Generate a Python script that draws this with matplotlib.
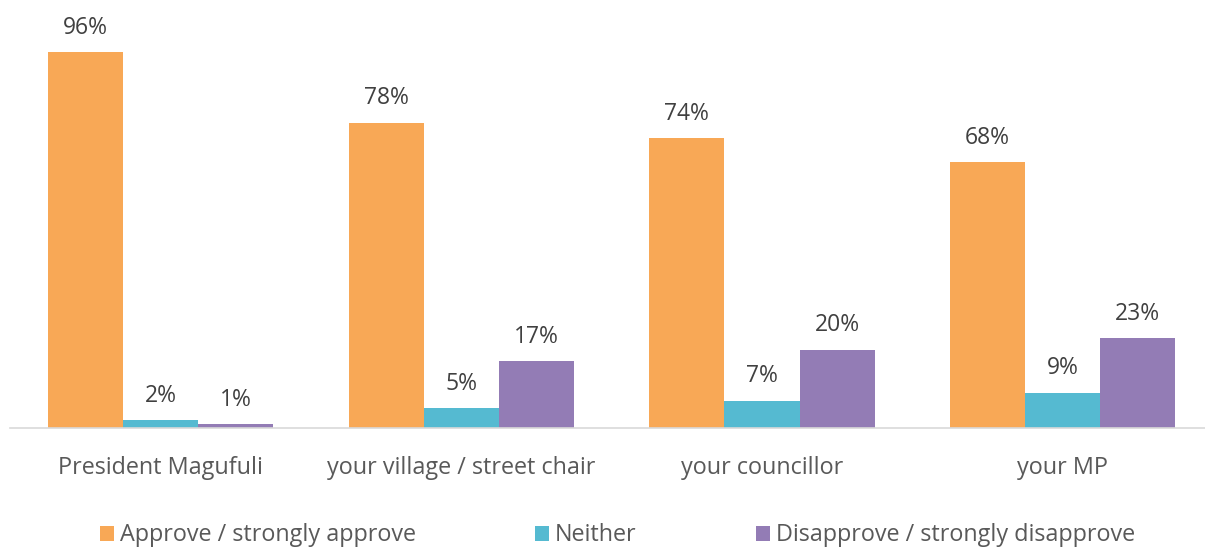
import matplotlib
matplotlib.use("Agg")
import matplotlib.pyplot as plt
import numpy as np

categories = ["President Magufuli", "your village / street chair", "your councillor", "your MP"]
series_names = ["Approve / strongly approve", "Neither", "Disapprove / strongly disapprove"]
approve = [96, 78, 74, 68]
neither = [2, 5, 7, 9]
disapprove = [1, 17, 20, 23]
colors = ["#F8A856", "#55BAD1", "#937CB5"]

plt.rcParams['font.family'] = ['Open Sans', 'DejaVu Sans']

fig = plt.figure(figsize=(12.05, 5.48), dpi=100)
ax = fig.add_axes([0.0086, 0.219, 0.998, 0.75])

x = np.arange(len(categories))
w = 0.25
for i, (vals, name, c) in enumerate(zip([approve, neither, disapprove], series_names, colors)):
    bars = ax.bar(x + (i - 1) * w, vals, width=w, color=c, label=name)
    for b, v in zip(bars, vals):
        ax.annotate(f"{v}%", (b.get_x() + b.get_width() / 2, v), xytext=(0, 17.5),
                    textcoords="offset points", ha="center", va="center",
                    fontsize=16.5, color="#404040")

ax.set_xlim(-0.5, 3.5)
ax.set_ylim(0, 105)
ax.set_xticks(x)
ax.set_xticklabels(categories, fontsize=16.8, color="#595959")
ax.tick_params(axis="x", length=0, pad=20)
ax.set_yticks([])
for s in ["top", "right", "left"]:
    ax.spines[s].set_visible(False)
ax.spines["bottom"].set_color("#D9D9D9")
ax.spines["bottom"].set_linewidth(1.2)

leg = fig.legend(loc="center", bbox_to_anchor=(0.5125, 0.023), ncol=3, frameon=False,
                 fontsize=16.8, handlelength=0.6, handleheight=0.6, handletextpad=0.25,
                 columnspacing=5.1, borderaxespad=0, borderpad=0)
for t in leg.get_texts():
    t.set_color("#595959")

fig.savefig("out.png", dpi=100)
